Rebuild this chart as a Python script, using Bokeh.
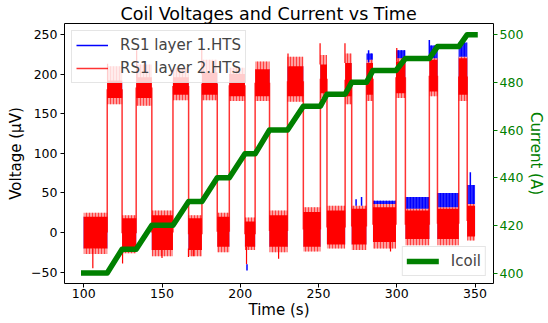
from bokeh.plotting import figure
from bokeh.models import (Range1d, LinearAxis, FixedTicker, Legend, LegendItem,
                          ColumnDataSource)
from bokeh.embed import file_html
from bokeh.resources import INLINE

# ---- data ----
# voltage segments (alternating flat-top "low" and ramp "high" intervals), time in s
seg_t0 = [100, 115, 124.5, 133.5, 143.5, 157, 167, 175.5, 185.3, 193, 203, 209.5,
          218.7, 230.2, 240.3, 251.2, 255.4, 267, 271.2, 280.6, 284.8, 299.5, 305.5,
          320.8, 326, 339.6, 345]
seg_t_end = 350
# dense red band (layer 2), µV
core_lo = [-20, 170, -20, 170, -22, 174, -22, 174, -18, 172, -18, 172, -18, 172,
           -18, 176, -15, 172, -15, 174, -12, 176, -8, 178, -8, 174, -5]
core_hi = [20, 192, 18, 196, 22, 196, 18, 202, 20, 200, 14, 206, 22, 210,
           26, 212, 28, 214, 30, 214, 32, 216, 28, 218, 30, 220, 34]
# sparse red fringe (layer 2), µV
fringe_lo = [-27, 162, -26, 160, -30, 167, -30, 167, -25, 166, -22, 166, -25, 165,
             -24, 170, -20, 162, -22, 166, -20, 170, -16, 172, -16, 166, -10]
fringe_hi = [25, 210, 22, 212, 28, 208, 22, 218, 25, 208, 19, 216, 28, 222,
             32, 224, 34, 226, 34, 218, 36, 220, 30, 220, 32, 222, 36]
# blue band (layer 1), µV
blue_lo = [-20, 170, -20, 170, -22, 174, -22, 174, -18, 172, -18, 172, -18, 172,
           -18, 176, -15, 172, -15, 174, -12, 176, -8, 178, -8, 174, -5]
blue_hi = [20, 192, 18, 196, 22, 196, 18, 202, 20, 200, 14, 206, 22, 210,
           26, 212, 28, 214, 33, 226, 40, 230, 45, 236, 50, 240, 60]
# isolated spikes
red_spike_t = [105.8, 124.8, 150, 166.9, 170, 204, 224.5, 296, 133.8, 175.4,
               230.5, 251, 266.9, 115.2, 300]
red_spike_lo = [-45, -39, -32, -31, -30, -40, -33, -24, 195, 200, 210, 212, 214, 192, 216]
red_spike_hi = [-20, -18, -22, -20, -20, -18, -18, -12, 230, 234, 226, 239, 239, 213, 233]
blue_spike_t = [204.3, 320.8, 347, 282, 274, 277.5]
blue_spike_lo = [-48, 220, 58, 215, 34, 34]
blue_spike_hi = [-40, 243, 76, 230, 42, 45]

# coil current
icoil_t = [100, 115, 124.5, 133.5, 143.5, 157, 167, 175.5, 185.3, 193, 203, 209.5,
           218.7, 230.2, 240.3, 251.2, 255.4, 267, 271.2, 280.6, 284.8, 299.5,
           305.5, 320.8, 326, 339.6, 345, 350]
icoil_a = [400, 400, 410, 410, 420, 420, 430, 430, 440, 440, 450, 450, 460, 460,
           470, 470, 475, 475, 480, 480, 485, 485, 490, 490, 495, 495, 500, 500]

x_ticks = [100, 150, 200, 250, 300, 350]
v_ticks = [-50, 0, 50, 100, 150, 200, 250]
i_ticks = [400, 420, 440, 460, 480, 500]

FONT = "DejaVu Sans"
GREEN = "#008000"

seg_t1 = seg_t0[1:] + [seg_t_end]
src = ColumnDataSource(dict(t0=seg_t0, t1=seg_t1, clo=core_lo, chi=core_hi,
                            flo=fringe_lo, fhi=fringe_hi, blo=blue_lo, bhi=blue_hi))
mid = [(a + b) / 2 for a, b in zip(core_lo, core_hi)]
tr_t = seg_t0[1:]
tr_y0 = mid[:-1]
tr_y1 = mid[1:]

p = figure(width=548, height=323, x_range=Range1d(87.7, 361.8),
           y_range=Range1d(-64.3, 263.9), output_backend="svg",
           toolbar_location=None, min_border_left=64, min_border_right=49,
           min_border_top=23, min_border_bottom=40,
           title="Coil Voltages and Current vs Time")
p.extra_y_ranges = {"cur": Range1d(395.6, 504.7)}
p.grid.visible = False
p.outline_line_color = "black"
p.outline_line_width = 1
p.background_fill_color = "white"

p.title.text_font = FONT
p.title.text_font_size = "17.5px"
p.title.text_font_style = "normal"
p.title.text_color = "black"
p.title.align = "left"
p.title.offset = 56
p.title.standoff = 0

p.quad(left="t0", right="t1", bottom="blo", top="bhi", source=src,
       fill_color="#2a2aff", line_color=None, hatch_pattern="|",
       hatch_color="#0000ff", hatch_scale=3, hatch_weight=1.5)
p.quad(left="t0", right="t1", bottom="flo", top="fhi", source=src,
       fill_color="#ff9e9e", line_color=None, hatch_pattern="|",
       hatch_color="#ff0000", hatch_scale=3, hatch_weight=1, hatch_alpha=0.6)
p.quad(left="t0", right="t1", bottom="clo", top="chi", source=src,
       fill_color="#ff0000", line_color=None)
r_red = p.segment(x0=tr_t, x1=tr_t, y0=tr_y0, y1=tr_y1, line_color="#ff0000",
                  line_width=1.5, line_alpha=0.8)
p.segment(x0=red_spike_t, x1=red_spike_t, y0=red_spike_lo, y1=red_spike_hi,
          line_color="#ff0000", line_width=1.2)
r_blue = p.segment(x0=blue_spike_t, x1=blue_spike_t, y0=blue_spike_lo,
                   y1=blue_spike_hi, line_color="#0000ff", line_width=1.5)
r_i = p.line(icoil_t, icoil_a, y_range_name="cur", line_color=GREEN,
             line_width=5.5, line_cap="square", line_join="round")

def style_axis(ax, color="black"):
    ax.axis_line_color = None
    ax.major_tick_in = 0
    ax.major_tick_out = 4
    ax.minor_tick_line_color = None
    ax.major_tick_line_color = color
    ax.major_label_text_font = FONT
    ax.major_label_text_font_size = "12.5px"
    ax.major_label_text_color = color
    ax.axis_label_text_font = FONT
    ax.axis_label_text_font_size = "15px"
    ax.axis_label_text_font_style = "normal"
    ax.axis_label_text_color = color

xa = p.xaxis[0]
xa.ticker = FixedTicker(ticks=x_ticks)
xa.axis_label = "Time (s)"
style_axis(xa)
xa.major_label_standoff = 1
xa.axis_label_standoff = 0

ya = p.yaxis[0]
ya.ticker = FixedTicker(ticks=v_ticks)
ya.major_label_overrides = {-50: "\u221250"}
ya.axis_label = "Voltage (\u00b5V)"
style_axis(ya)
ya.major_label_standoff = 3
ya.axis_label_standoff = 3

ra = LinearAxis(y_range_name="cur", ticker=FixedTicker(ticks=i_ticks),
                axis_label="Current (A)")
style_axis(ra, GREEN)
ra.major_label_standoff = 2
ra.axis_label_standoff = 1
p.add_layout(ra, "right")

common = dict(padding=4, spacing=3, glyph_width=32, glyph_height=20,
              label_height=20, label_standoff=12, label_text_font=FONT,
              label_text_font_size="15px", border_line_color="#cccccc",
              border_line_width=1, background_fill_alpha=0.8, margin=7)
leg1 = Legend(items=[LegendItem(label="RS1 layer 1.HTS", renderers=[r_blue]),
                     LegendItem(label="RS1 layer 2.HTS", renderers=[r_red])],
              location="top_left", **common)
leg2 = Legend(items=[LegendItem(label="Icoil", renderers=[r_i])],
              location="bottom_right", **common)
p.add_layout(leg1)
p.add_layout(leg2)

open("out.html", "w").write(file_html(p, INLINE))
